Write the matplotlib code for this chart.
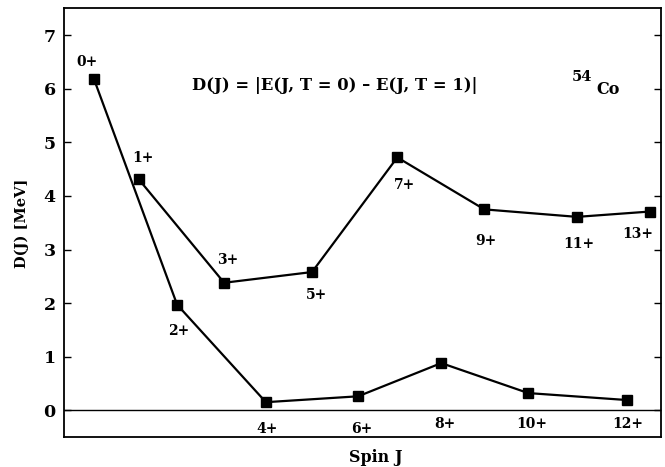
import matplotlib
matplotlib.use("Agg")
import matplotlib.pyplot as plt

plt.rcParams['font.family'] = ['DejaVu Serif']
plt.rcParams['font.weight'] = 'bold'

# Data
spin_labels = ["0+", "1+", "2+", "3+", "4+", "5+", "6+", "7+", "8+", "9+", "10+", "11+", "12+", "13+"]
x_pos = [0.0, 1.03, 1.91, 2.99, 3.95, 5.01, 6.07, 6.97, 7.98, 8.97, 9.98, 11.1, 12.25, 12.78]
d_values = [6.18, 4.31, 1.97, 2.38, 0.15, 2.58, 0.26, 4.72, 0.88, 3.75, 0.32, 3.61, 0.19, 3.71]
y_ticks = [0, 1, 2, 3, 4, 5, 6, 7]

# label offsets in pixels (dx, dy up)
label_offsets = [(-7, 17), (4, 21), (2, -26), (4, 23), (1, -27), (4, -23), (4, -33),
                 (7, -28), (4, -61), (2, -32), (3, -31), (2, -27), (1, -24), (-12, -22)]

fig = plt.figure(figsize=(6.65, 4.67), dpi=100)
ax = fig.add_axes([64/665, 1-437/467, (661-64)/665, (437-8)/467])

even_x = x_pos[0::2]
even_y = d_values[0::2]
odd_x = x_pos[1::2]
odd_y = d_values[1::2]

ax.plot(even_x, even_y, color='black', lw=1.6, marker='s', ms=7.8, mfc='black', mec='black', zorder=3)
ax.plot(odd_x, odd_y, color='black', lw=1.6, marker='s', ms=7.8, mfc='black', mec='black', zorder=3)
ax.axhline(0, color='black', lw=1.0, zorder=1)

for lab, x, y, (dx, dy) in zip(spin_labels, x_pos, d_values, label_offsets):
    ax.annotate(lab, (x, y), xytext=(dx*0.72, dy*0.72), textcoords='offset points',
                ha='center', va='center', fontsize=10, fontweight='bold')

ax.set_xlim(-0.69, 13.03)
ax.set_ylim(-0.5, 7.51)
ax.set_xticks([])
ax.set_yticks(y_ticks)
ax.set_yticklabels([str(t) for t in y_ticks], fontsize=12.5, fontweight='bold')
ax.tick_params(axis='y', direction='in', length=5, width=1.0, right=True, left=True, pad=6)
for s in ax.spines.values():
    s.set_linewidth(1.3)

fig.text(22/665, 1-223/467, "D(J) [MeV]", rotation=90, ha='center', va='center',
         fontsize=10.5, fontweight='bold')
fig.text(376/665, 1-458/467, "Spin J", ha='center', va='center', fontsize=11.5, fontweight='bold')

fig.text(335/665, 1-85/467, "D(J) = |E(J, T = 0) \u2013 E(J, T = 1)|", ha='center', va='center',
         fontsize=11.8, fontweight='bold')
fig.text(582/665, 1-77/467, "54", ha='center', va='center', fontsize=10.5, fontweight='bold')
fig.text(608/665, 1-90/467, "Co", ha='center', va='center', fontsize=11.5, fontweight='bold')

fig.savefig("out.png", dpi=100)
